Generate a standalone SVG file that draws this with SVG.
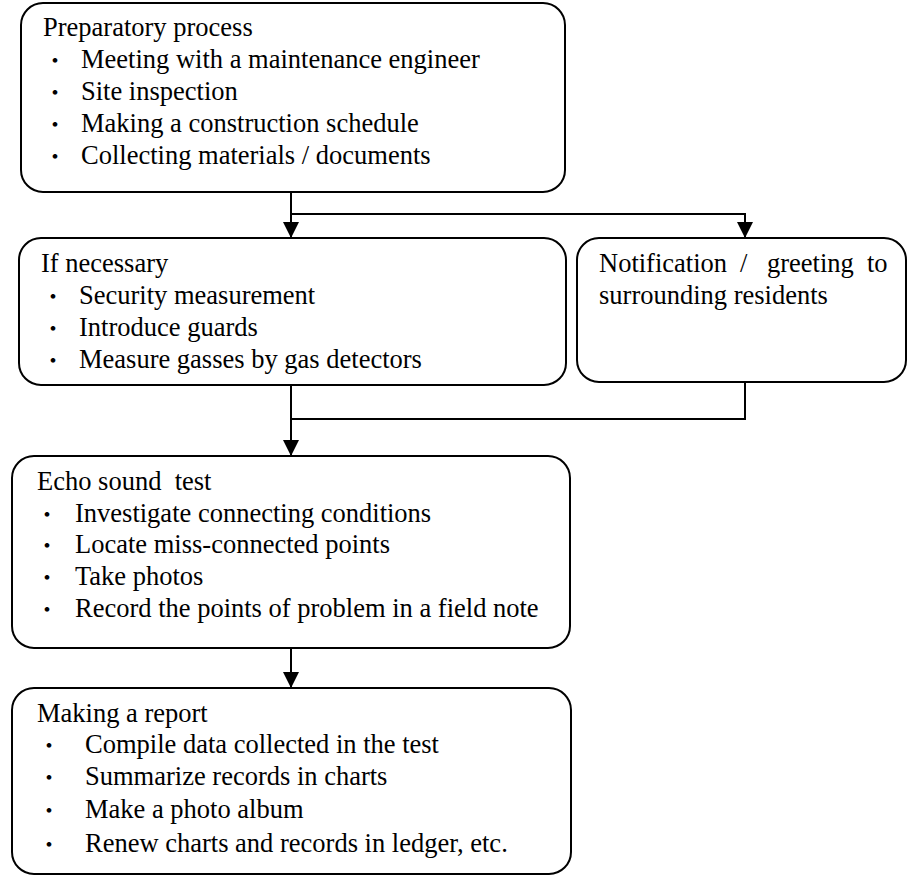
<svg xmlns="http://www.w3.org/2000/svg" width="907" height="876" viewBox="0 0 907 876">
  <style>
    .box { fill: #ffffff; stroke: #000000; stroke-width: 2; }
    .wire { fill: none; stroke: #000000; stroke-width: 2; }
    text { font-family: "Liberation Serif", "Times New Roman", "Noto Sans CJK JP", serif; font-size: 26.5px; fill: #000000; }
    .dot { font-family: "Noto Sans CJK JP", sans-serif; font-size: 22px; }
  </style>
  <defs>
    <marker id="arrow" viewBox="0 0 16 16" refX="16" refY="8" markerWidth="16" markerHeight="16" markerUnits="userSpaceOnUse" orient="auto">
      <path d="M0,0 L16,8 L0,16 Z" fill="#000000"/>
    </marker>
  </defs>
  <rect width="907" height="876" fill="#ffffff"/>

  <!-- connectors -->
  <g id="connectors">
    <path class="wire" d="M291,191 V238" marker-end="url(#arrow)"/>
    <path class="wire" d="M291,214 H745 V238" marker-end="url(#arrow)"/>
    <path class="wire" d="M291,385 V456" marker-end="url(#arrow)"/>
    <path class="wire" d="M745,382 V419 H291"/>
    <path class="wire" d="M291,648 V688" marker-end="url(#arrow)"/>
  </g>

  <!-- preparatory step -->
  <g id="preparatory">
    <rect class="box" x="21" y="3" width="544" height="189" rx="22" ry="22"/>
    <text x="43" y="36">Preparatory process</text>
    <text class="dot" x="44" y="68">・</text>
    <text x="81" y="68">Meeting with a maintenance engineer</text>
    <text class="dot" x="44" y="100">・</text>
    <text x="81" y="100">Site inspection</text>
    <text class="dot" x="44" y="132">・</text>
    <text x="81" y="132">Making a construction schedule</text>
    <text class="dot" x="44" y="164">・</text>
    <text x="81" y="164">Collecting materials / documents</text>
  </g>

  <!-- optional safety measures -->
  <g id="if-necessary">
    <rect class="box" x="19" y="238" width="547" height="147" rx="22" ry="22"/>
    <text x="41" y="272">If necessary</text>
    <text class="dot" x="42" y="304">・</text>
    <text x="79" y="304">Security measurement</text>
    <text class="dot" x="42" y="336">・</text>
    <text x="79" y="336">Introduce guards</text>
    <text class="dot" x="42" y="368">・</text>
    <text x="79" y="368">Measure gasses by gas detectors</text>
  </g>

  <!-- neighbourhood notice -->
  <g id="notification">
    <rect class="box" x="577" y="238" width="329" height="144" rx="22" ry="22"/>
    <text y="272"><tspan x="599">Notification</tspan><tspan x="740">/</tspan><tspan x="767">greeting</tspan><tspan x="867">to</tspan></text>
    <text x="599" y="304">surrounding residents</text>
  </g>

  <!-- echo sound test -->
  <g id="echo-test">
    <rect class="box" x="12" y="456" width="558" height="192" rx="22" ry="22"/>
    <text x="37" y="490" xml:space="preserve">Echo sound  test</text>
    <text class="dot" x="36" y="522">・</text>
    <text x="75" y="522">Investigate connecting conditions</text>
    <text class="dot" x="36" y="553">・</text>
    <text x="75" y="553">Locate miss-connected points</text>
    <text class="dot" x="36" y="585">・</text>
    <text x="75" y="585">Take photos</text>
    <text class="dot" x="36" y="617">・</text>
    <text x="75" y="617">Record the points of problem in a field note</text>
  </g>

  <!-- reporting -->
  <g id="report">
    <rect class="box" x="12" y="688" width="559" height="186" rx="22" ry="22"/>
    <text x="37" y="722">Making a report</text>
    <text class="dot" x="38" y="753">・</text>
    <text x="85" y="753">Compile data collected in the test</text>
    <text class="dot" x="38" y="785">・</text>
    <text x="85" y="785">Summarize records in charts</text>
    <text class="dot" x="38" y="818">・</text>
    <text x="85" y="818">Make a photo album</text>
    <text class="dot" x="38" y="852">・</text>
    <text x="85" y="852">Renew charts and records in ledger, etc.</text>
  </g>
</svg>
